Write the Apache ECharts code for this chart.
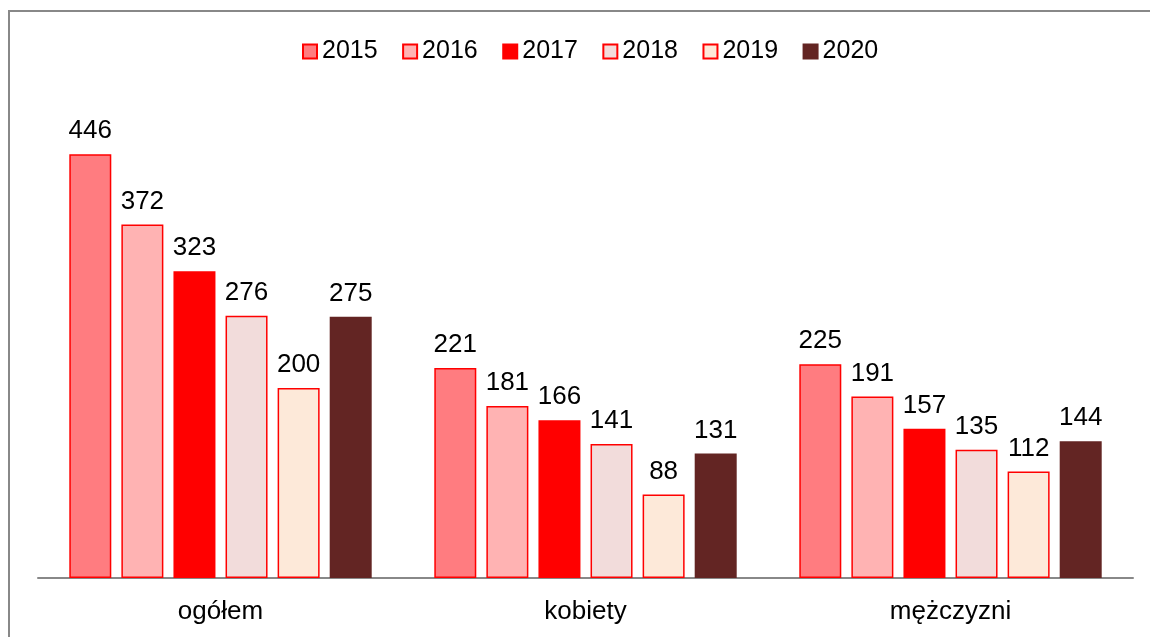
<!DOCTYPE html>
<html>
<head>
<meta charset="utf-8">
<script src="https://cdn.jsdelivr.net/npm/echarts@6/dist/echarts.min.js"></script>
<style>
  html, body { margin: 0; padding: 0; background: #fff; }
  #chart { width: 1150px; height: 637px; }
</style>
</head>
<body>
<div id="chart"></div>
<script>
const categories = ['ogółem', 'kobiety', 'mężczyzni']
const years = ['2015', '2016', '2017', '2018', '2019', '2020']
const values2015 = [446, 221, 225]
const values2016 = [372, 181, 191]
const values2017 = [323, 166, 157]
const values2018 = [276, 141, 135]
const values2019 = [200, 88, 112]
const values2020 = [275, 131, 144]

const seriesValues = [values2015, values2016, values2017, values2018, values2019, values2020]
const fills = ['#ff7c80', '#ffb3b3', '#ff0000', '#f2dcdb', '#fde9d9', '#632523']
const borders = ['#ff0000', '#ff0000', '#ff0000', '#ff0000', '#ff0000', '#632523']

const font = '"Liberation Sans", Arial, sans-serif'

const chart = echarts.init(document.getElementById('chart'))

chart.setOption({
  animation: false,
  textStyle: { fontFamily: font },
  graphic: [
    {
      // ramka wykresu (prawa i dolna krawędź poza obrazem)
      type: 'rect',
      shape: { x: 9, y: 11, width: 1300, height: 800 },
      style: { fill: 'none', stroke: '#888888', lineWidth: 2 },
      silent: true,
    },
  ],
  legend: {
    top: 34,
    left: 297,
    icon: 'rect',
    itemWidth: 14,
    itemHeight: 14,
    itemGap: 24.5,
    textStyle: { fontSize: 25, color: '#000', fontFamily: font },
    data: years,
  },
  grid: { left: 38, right: 17, top: 103, bottom: 59 },
  xAxis: {
    type: 'category',
    data: categories,
    axisLine: { lineStyle: { color: '#888888', width: 2 } },
    axisTick: { show: false },
    axisLabel: { fontSize: 26, color: '#000', margin: 21, fontFamily: font },
  },
  yAxis: {
    type: 'value',
    min: 0,
    max: 500,
    show: false,
    splitLine: { show: false },
  },
  series: years.map((y, i) => ({
    name: y,
    type: 'bar',
    data: seriesValues[i],
    barWidth: 42,
    barGap: '24%',
    itemStyle: { color: fills[i], borderColor: borders[i], borderWidth: 1.5 },
    label: {
      show: true,
      position: 'top',
      distance: 10,
      fontSize: 26,
      color: '#000',
      fontFamily: font,
    },
  })),
})
</script>
</body>
</html>
